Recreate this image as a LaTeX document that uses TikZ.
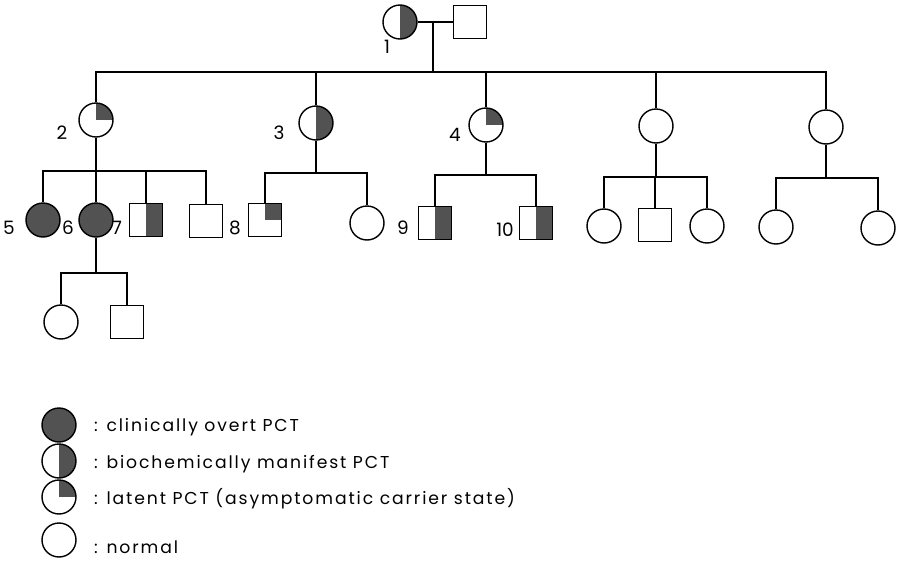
\documentclass[tikz,border=0pt]{standalone}
\usepackage{fontspec}
\setmainfont{Poppins}
\newfontfamily\legfont{Poppins}[LetterSpace=11]
\usetikzlibrary{positioning}
\definecolor{affect}{gray}{0.32}
\tikzset{
  female/.style={circle, draw, line width=0.8pt, minimum size=0.68cm, inner sep=0pt},
  male/.style={rectangle, draw, line width=0.8pt, minimum size=0.66cm, inner sep=0pt},
  overt/.style={fill=affect},
  manifest/.style={path picture={\fill[affect] (path picture bounding box.south) rectangle (path picture bounding box.north east);}},
  latent/.style={path picture={\fill[affect] (path picture bounding box.center) rectangle (path picture bounding box.north east);}},
  link/.style={line width=0.8pt},
  idlabel/.style={font=\fontsize{10.5}{12}\selectfont},
  legtext/.style={anchor=west, font=\legfont\fontsize{9.8}{11}\selectfont},
}

\begin{document}
\begin{tikzpicture}[x=0.02cm, y=-0.02cm]
  \useasboundingbox (0,0) rectangle (897,575);
  % generation I
  \node[female, manifest] (p1) at (400,22) {};
  \node[male] (p1h) at (470,22) {};
  \node[idlabel] (l1) at (387,47) {1};
  \coordinate (m1) at (433,22);
  \coordinate (s1) at (433,72);
  \draw[link] (p1) -- (p1h);
  \draw[link] (m1) -- (s1);
  % generation II
  \node[female, latent] (p2) at (96,120) {};
  \node[female, manifest] (p3) at (316,123) {};
  \node[female, latent] (p4) at (486,125) {};
  \node[female] (p2d) at (656,126) {};
  \node[female] (p2e) at (826,127) {};
  \node[idlabel] (l2) at (62,133) {2};
  \node[idlabel] (l3) at (279,133) {3};
  \node[idlabel] (l4) at (455,135) {4};
  \draw[link] (p2.north) |- (s1) -| (p2e.north);
  \foreach \n in {p3,p4,p2d} {
    \draw[link] (\n.north) -- (\n.north |- s1);
  }
  % generation III
  \coordinate (s2) at (96,171);
  \coordinate (s3) at (316,173);
  \coordinate (s4) at (486,175);
  \coordinate (s5) at (656,177);
  \coordinate (s6) at (826,178);
  \node[female, overt] (p5) at (43,220) {};
  \node[female, overt] (p6) at (96,220) {};
  \node[male, manifest] (p7) at (146,220) {};
  \node[male] (p2g) at (206,221) {};
  \node[male, latent] (p8) at (265,220) {};
  \node[female] (p3b) at (367,223) {};
  \node[male, manifest] (p9) at (435,223) {};
  \node[male, manifest] (p10) at (536,223) {};
  \node[female] (p5a) at (604,226) {};
  \node[male] (p5b) at (655,225) {};
  \node[female] (p5c) at (707,226) {};
  \node[female] (p6a) at (776,227) {};
  \node[female] (p6b) at (878,228) {};
  \node[idlabel] (l5) at (9,228) {5};
  \node[idlabel] (l6) at (68,228) {6};
  \node[idlabel] (l7) at (117,228) {7};
  \node[idlabel] (l8) at (235,228) {8};
  \node[idlabel] (l9) at (403,228) {9};
  \node[idlabel] (l10) at (505,230) {10};
  \draw[link] (p2) -- (p6);
  \draw[link] (p5.north) |- (s2) -| (p2g.north);
  \draw[link] (p7.north) -- (p7.north |- s2);
  \draw[link] (p3) -- (s3);
  \draw[link] (p8.north) |- (s3) -| (p3b.north);
  \draw[link] (p4) -- (s4);
  \draw[link] (p9.north) |- (s4) -| (p10.north);
  \draw[link] (p2d) -- (s5);
  \draw[link] (p5a.north) |- (s5) -| (p5c.north);
  \draw[link] (p5b.north) -- (p5b.north |- s5);
  \draw[link] (p2e) -- (s6);
  \draw[link] (p6a.north) |- (s6) -| (p6b.north);
  % generation IV
  \coordinate (s7) at (96,273);
  \node[female] (p6c) at (61,322) {};
  \node[male] (p6d) at (127,322) {};
  \draw[link] (p6) -- (s7);
  \draw[link] (p6c.north) |- (s7) -| (p6d.north);
  % legend
  \node[female, overt] (k1) at (59,425) {};
  \node[female, manifest] (k2) at (59,461) {};
  \node[female, latent] (k3) at (59,497) {};
  \node[female] (k4) at (59,540) {};
  \node[legtext] (t1) at (88,427) {: clinically overt PCT};
  \node[legtext] (t2) at (88,464) {: biochemically manifest PCT};
  \node[legtext] (t3) at (88,499) {: latent PCT (asymptomatic carrier state)};
  \node[legtext] (t4) at (88,547) {: normal};
\end{tikzpicture}
\end{document}
